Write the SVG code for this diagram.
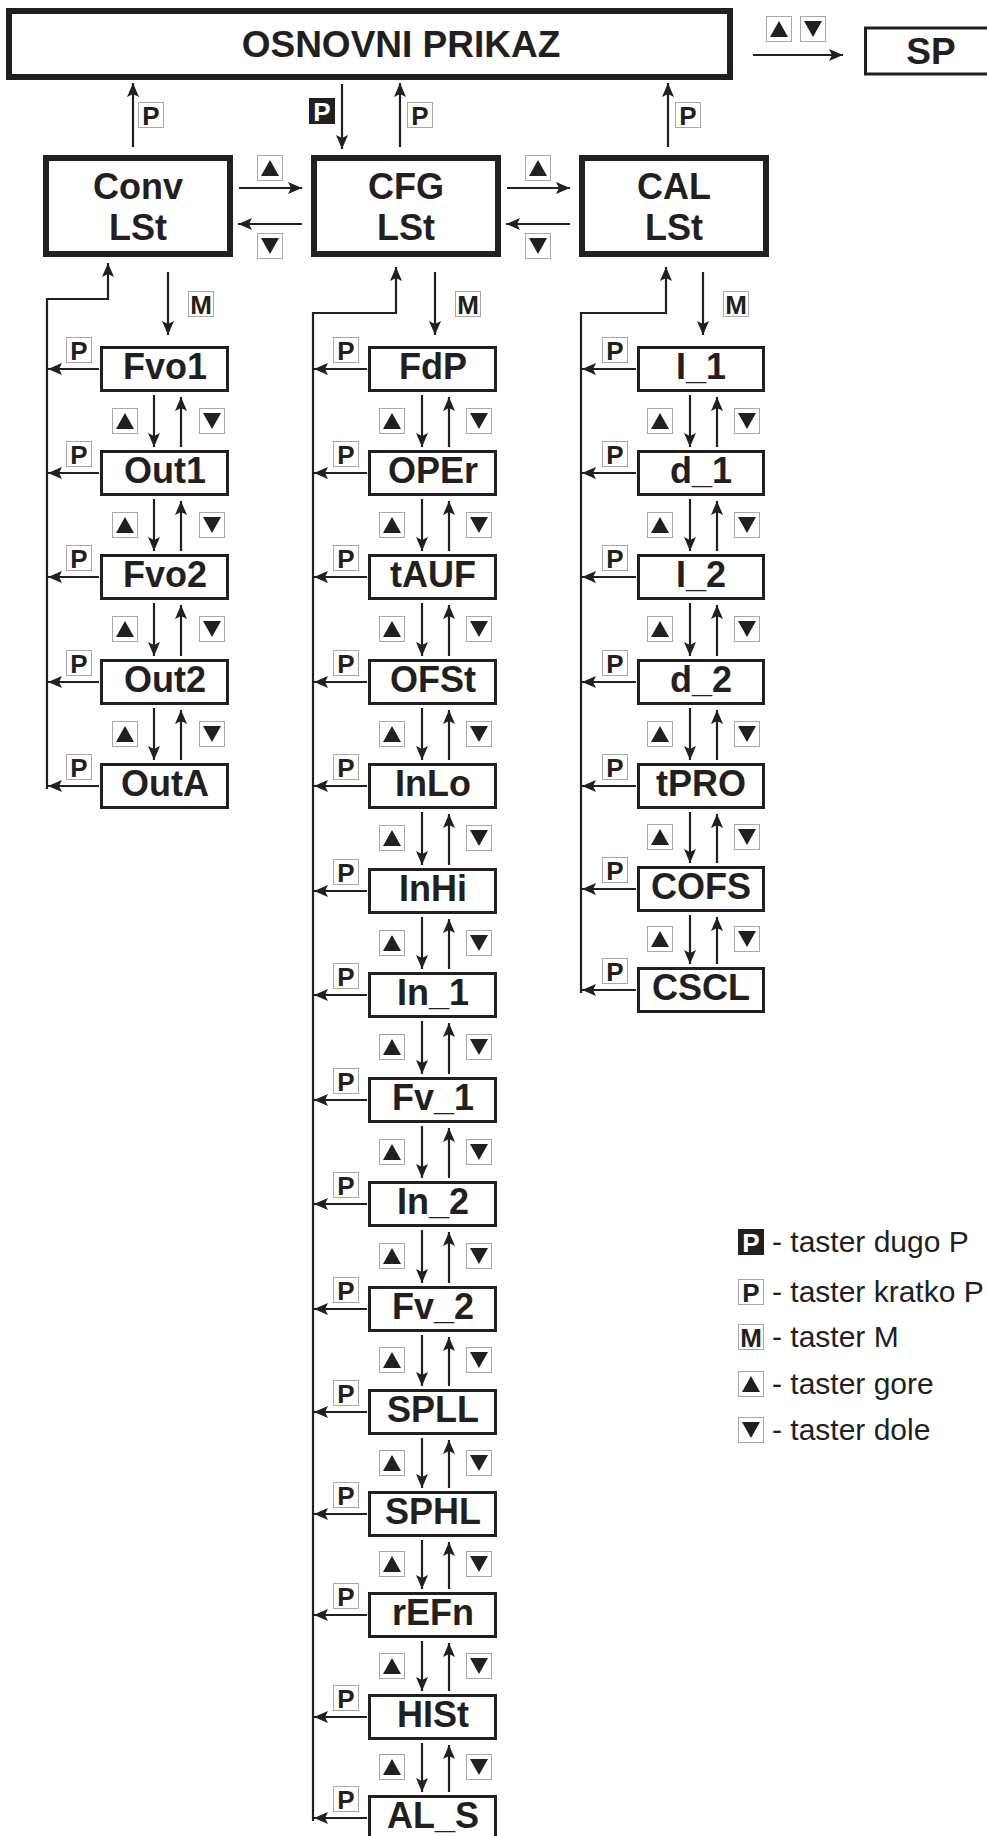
<svg xmlns="http://www.w3.org/2000/svg" width="987" height="1836" viewBox="0 0 987 1836">
<style>
.bb{fill:#fff;stroke:#231f20;stroke-width:6}
.sb{fill:#fff;stroke:#231f20;stroke-width:3}
.t{font-family:"Liberation Sans",Arial,sans-serif;font-weight:bold;font-size:36px;fill:#231f20;text-anchor:middle}
.c{stroke:#231f20;stroke-width:2.2;fill:none;marker-end:url(#ah)}
.key{fill:#fff;stroke:#a8a8a8;stroke-width:1}
.tri{fill:#231f20}
.kt{font-family:"Liberation Sans",Arial,sans-serif;font-weight:bold;font-size:26px;fill:#231f20;text-anchor:middle}
.lg{font-family:"Liberation Sans",Arial,sans-serif;font-size:30px;fill:#231f20}
</style>
<defs>
<marker id="ah" viewBox="0 0 14 12" refX="14" refY="6" markerWidth="14" markerHeight="12" orient="auto" markerUnits="userSpaceOnUse"><path d="M0,0 L14,6 L0,12 L3,6 Z" fill="#231f20"/></marker>
<g id="kUp"><rect class="key" x="0.5" y="0.5" width="25" height="25"/><path class="tri" d="M4,21 L22,21 L13,5 Z"/></g>
<g id="kDn"><rect class="key" x="0.5" y="0.5" width="25" height="25"/><path class="tri" d="M4,5 L22,5 L13,21 Z"/></g>
<g id="kP"><rect class="key" x="0.5" y="0.5" width="25" height="25"/><text class="kt" x="13" y="23">P</text></g>
<g id="kM"><rect class="key" x="0.5" y="0.5" width="25" height="25"/><text class="kt" x="13" y="23">M</text></g>
<g id="kPL"><rect x="0" y="0" width="26" height="26" fill="#231f20"/><text class="kt" x="13" y="23" style="fill:#fff">P</text></g>
</defs>

<g id="osnovni"><rect class="bb" x="9" y="11" width="721" height="66"/><text class="t" x="401" y="57" style="font-size:37px">OSNOVNI PRIKAZ</text></g>
<g id="sp"><rect class="sb" x="865.5" y="28" width="130" height="46"/><text class="t" x="931" y="64" style="font-size:37px">SP</text></g>

<g id="conv"><rect class="bb" x="46" y="158" width="184" height="96"/><text class="t" x="138" y="199">Conv</text><text class="t" x="138" y="240">LSt</text></g>
<g id="cfg"><rect class="bb" x="314" y="158" width="184" height="96"/><text class="t" x="406" y="199">CFG</text><text class="t" x="406" y="240">LSt</text></g>
<g id="cal"><rect class="bb" x="582" y="158" width="184" height="96"/><text class="t" x="674" y="199">CAL</text><text class="t" x="674" y="240">LSt</text></g>

<g id="Fvo1"><rect class="sb" x="101.5" y="347.5" width="126" height="43"/><text class="t" x="165" y="379">Fvo1</text></g>
<g id="Out1"><rect class="sb" x="101.5" y="451.5" width="126" height="43"/><text class="t" x="165" y="483">Out1</text></g>
<g id="Fvo2"><rect class="sb" x="101.5" y="555.5" width="126" height="43"/><text class="t" x="165" y="587">Fvo2</text></g>
<g id="Out2"><rect class="sb" x="101.5" y="660.5" width="126" height="43"/><text class="t" x="165" y="692">Out2</text></g>
<g id="OutA"><rect class="sb" x="101.5" y="764.5" width="126" height="43"/><text class="t" x="165" y="796">OutA</text></g>

<g id="FdP"><rect class="sb" x="369.5" y="347.5" width="126" height="43"/><text class="t" x="433" y="379">FdP</text></g>
<g id="OPEr"><rect class="sb" x="369.5" y="451.5" width="126" height="43"/><text class="t" x="433" y="483">OPEr</text></g>
<g id="tAUF"><rect class="sb" x="369.5" y="555.5" width="126" height="43"/><text class="t" x="433" y="587">tAUF</text></g>
<g id="OFSt"><rect class="sb" x="369.5" y="660.5" width="126" height="43"/><text class="t" x="433" y="692">OFSt</text></g>
<g id="InLo"><rect class="sb" x="369.5" y="764.5" width="126" height="43"/><text class="t" x="433" y="796">InLo</text></g>
<g id="InHi"><rect class="sb" x="369.5" y="869.5" width="126" height="43"/><text class="t" x="433" y="901">InHi</text></g>
<g id="In_1"><rect class="sb" x="369.5" y="973.5" width="126" height="43"/><text class="t" x="433" y="1005">In_1</text></g>
<g id="Fv_1"><rect class="sb" x="369.5" y="1078.5" width="126" height="43"/><text class="t" x="433" y="1110">Fv_1</text></g>
<g id="In_2"><rect class="sb" x="369.5" y="1182.5" width="126" height="43"/><text class="t" x="433" y="1214">In_2</text></g>
<g id="Fv_2"><rect class="sb" x="369.5" y="1287.5" width="126" height="43"/><text class="t" x="433" y="1319">Fv_2</text></g>
<g id="SPLL"><rect class="sb" x="369.5" y="1390.5" width="126" height="43"/><text class="t" x="433" y="1422">SPLL</text></g>
<g id="SPHL"><rect class="sb" x="369.5" y="1492.5" width="126" height="43"/><text class="t" x="433" y="1524">SPHL</text></g>
<g id="rEFn"><rect class="sb" x="369.5" y="1593.5" width="126" height="43"/><text class="t" x="433" y="1625">rEFn</text></g>
<g id="HISt"><rect class="sb" x="369.5" y="1695.5" width="126" height="43"/><text class="t" x="433" y="1727">HISt</text></g>
<g id="AL_S"><rect class="sb" x="369.5" y="1796.5" width="126" height="43"/><text class="t" x="433" y="1828">AL_S</text></g>

<g id="I_1"><rect class="sb" x="638.5" y="347.5" width="125" height="43"/><text class="t" x="701" y="379">I_1</text></g>
<g id="d_1"><rect class="sb" x="638.5" y="451.5" width="125" height="43"/><text class="t" x="701" y="483">d_1</text></g>
<g id="I_2"><rect class="sb" x="638.5" y="555.5" width="125" height="43"/><text class="t" x="701" y="587">I_2</text></g>
<g id="d_2"><rect class="sb" x="638.5" y="660.5" width="125" height="43"/><text class="t" x="701" y="692">d_2</text></g>
<g id="tPRO"><rect class="sb" x="638.5" y="764.5" width="125" height="43"/><text class="t" x="701" y="796">tPRO</text></g>
<g id="COFS"><rect class="sb" x="638.5" y="867.5" width="125" height="43"/><text class="t" x="701" y="899">COFS</text></g>
<g id="CSCL"><rect class="sb" x="638.5" y="968.5" width="125" height="43"/><text class="t" x="701" y="1000">CSCL</text></g>

<g id="connectors">
<line class="c" x1="133" y1="147" x2="133" y2="83"/>
<line class="c" x1="342" y1="84" x2="342" y2="149"/>
<line class="c" x1="400" y1="147" x2="400" y2="83"/>
<line class="c" x1="668" y1="147" x2="668" y2="83"/>
<line class="c" x1="753" y1="55" x2="843" y2="55"/>
<line class="c" x1="239" y1="188" x2="302" y2="188"/>
<line class="c" x1="302" y1="224" x2="238" y2="224"/>
<line class="c" x1="507" y1="188" x2="570" y2="188"/>
<line class="c" x1="570" y1="224" x2="506" y2="224"/>
<line class="c" x1="168" y1="272" x2="168" y2="335"/>
<line class="c" x1="435" y1="272" x2="435" y2="335"/>
<line class="c" x1="703" y1="272" x2="703" y2="335"/>
<polyline class="c" points="47,789 47,299 108,299 108,263"/>
<polyline class="c" points="313,1821 313,313 396,313 396,267"/>
<polyline class="c" points="581,993 581,313 666,313 666,267"/>

<line class="c" x1="99" y1="369" x2="48" y2="369"/>
<line class="c" x1="99" y1="473" x2="48" y2="473"/>
<line class="c" x1="99" y1="577" x2="48" y2="577"/>
<line class="c" x1="99" y1="682" x2="48" y2="682"/>
<line class="c" x1="99" y1="786" x2="48" y2="786"/>
<line class="c" x1="154" y1="395" x2="154" y2="447"/><line class="c" x1="181" y1="447" x2="181" y2="397"/>
<line class="c" x1="154" y1="499" x2="154" y2="551"/><line class="c" x1="181" y1="551" x2="181" y2="501"/>
<line class="c" x1="154" y1="603" x2="154" y2="656"/><line class="c" x1="181" y1="656" x2="181" y2="605"/>
<line class="c" x1="154" y1="708" x2="154" y2="760"/><line class="c" x1="181" y1="760" x2="181" y2="710"/>

<line class="c" x1="367" y1="369" x2="314" y2="369"/>
<line class="c" x1="367" y1="473" x2="314" y2="473"/>
<line class="c" x1="367" y1="577" x2="314" y2="577"/>
<line class="c" x1="367" y1="682" x2="314" y2="682"/>
<line class="c" x1="367" y1="786" x2="314" y2="786"/>
<line class="c" x1="367" y1="891" x2="314" y2="891"/>
<line class="c" x1="367" y1="995" x2="314" y2="995"/>
<line class="c" x1="367" y1="1100" x2="314" y2="1100"/>
<line class="c" x1="367" y1="1204" x2="314" y2="1204"/>
<line class="c" x1="367" y1="1309" x2="314" y2="1309"/>
<line class="c" x1="367" y1="1412" x2="314" y2="1412"/>
<line class="c" x1="367" y1="1514" x2="314" y2="1514"/>
<line class="c" x1="367" y1="1615" x2="314" y2="1615"/>
<line class="c" x1="367" y1="1717" x2="314" y2="1717"/>
<line class="c" x1="367" y1="1818" x2="314" y2="1818"/>
<line class="c" x1="422" y1="395" x2="422" y2="447"/><line class="c" x1="449" y1="447" x2="449" y2="397"/>
<line class="c" x1="422" y1="499" x2="422" y2="551"/><line class="c" x1="449" y1="551" x2="449" y2="501"/>
<line class="c" x1="422" y1="603" x2="422" y2="656"/><line class="c" x1="449" y1="656" x2="449" y2="605"/>
<line class="c" x1="422" y1="708" x2="422" y2="760"/><line class="c" x1="449" y1="760" x2="449" y2="710"/>
<line class="c" x1="422" y1="812" x2="422" y2="865"/><line class="c" x1="449" y1="865" x2="449" y2="814"/>
<line class="c" x1="422" y1="917" x2="422" y2="969"/><line class="c" x1="449" y1="969" x2="449" y2="919"/>
<line class="c" x1="422" y1="1021" x2="422" y2="1074"/><line class="c" x1="449" y1="1074" x2="449" y2="1023"/>
<line class="c" x1="422" y1="1126" x2="422" y2="1178"/><line class="c" x1="449" y1="1178" x2="449" y2="1128"/>
<line class="c" x1="422" y1="1230" x2="422" y2="1283"/><line class="c" x1="449" y1="1283" x2="449" y2="1232"/>
<line class="c" x1="422" y1="1335" x2="422" y2="1386"/><line class="c" x1="449" y1="1386" x2="449" y2="1337"/>
<line class="c" x1="422" y1="1438" x2="422" y2="1488"/><line class="c" x1="449" y1="1488" x2="449" y2="1440"/>
<line class="c" x1="422" y1="1540" x2="422" y2="1589"/><line class="c" x1="449" y1="1589" x2="449" y2="1542"/>
<line class="c" x1="422" y1="1641" x2="422" y2="1691"/><line class="c" x1="449" y1="1691" x2="449" y2="1643"/>
<line class="c" x1="422" y1="1743" x2="422" y2="1792"/><line class="c" x1="449" y1="1792" x2="449" y2="1745"/>

<line class="c" x1="636" y1="369" x2="582" y2="369"/>
<line class="c" x1="636" y1="473" x2="582" y2="473"/>
<line class="c" x1="636" y1="577" x2="582" y2="577"/>
<line class="c" x1="636" y1="682" x2="582" y2="682"/>
<line class="c" x1="636" y1="786" x2="582" y2="786"/>
<line class="c" x1="636" y1="889" x2="582" y2="889"/>
<line class="c" x1="636" y1="990" x2="582" y2="990"/>
<line class="c" x1="690" y1="395" x2="690" y2="447"/><line class="c" x1="717" y1="447" x2="717" y2="397"/>
<line class="c" x1="690" y1="499" x2="690" y2="551"/><line class="c" x1="717" y1="551" x2="717" y2="501"/>
<line class="c" x1="690" y1="603" x2="690" y2="656"/><line class="c" x1="717" y1="656" x2="717" y2="605"/>
<line class="c" x1="690" y1="708" x2="690" y2="760"/><line class="c" x1="717" y1="760" x2="717" y2="710"/>
<line class="c" x1="690" y1="812" x2="690" y2="863"/><line class="c" x1="717" y1="863" x2="717" y2="814"/>
<line class="c" x1="690" y1="915" x2="690" y2="964"/><line class="c" x1="717" y1="964" x2="717" y2="917"/>
</g>

<g id="keys">
<use href="#kP" x="138" y="102"/>
<use href="#kPL" x="309" y="98"/>
<use href="#kP" x="407" y="102"/>
<use href="#kP" x="675" y="102"/>
<use href="#kUp" x="766" y="16"/>
<use href="#kDn" x="800" y="16"/>
<use href="#kUp" x="257" y="155"/>
<use href="#kDn" x="257" y="233"/>
<use href="#kUp" x="525" y="155"/>
<use href="#kDn" x="525" y="233"/>
<use href="#kM" x="188" y="291"/>
<use href="#kM" x="455" y="291"/>
<use href="#kM" x="723" y="291"/>

<use href="#kP" x="66" y="337"/><use href="#kP" x="66" y="441"/><use href="#kP" x="66" y="545"/><use href="#kP" x="66" y="650"/><use href="#kP" x="66" y="754"/>
<use href="#kUp" x="112" y="408"/><use href="#kDn" x="199" y="408"/>
<use href="#kUp" x="112" y="512"/><use href="#kDn" x="199" y="512"/>
<use href="#kUp" x="112" y="616"/><use href="#kDn" x="199" y="616"/>
<use href="#kUp" x="112" y="721"/><use href="#kDn" x="199" y="721"/>

<use href="#kP" x="333" y="337"/><use href="#kP" x="333" y="441"/><use href="#kP" x="333" y="545"/><use href="#kP" x="333" y="650"/><use href="#kP" x="333" y="754"/>
<use href="#kP" x="333" y="859"/><use href="#kP" x="333" y="963"/><use href="#kP" x="333" y="1068"/><use href="#kP" x="333" y="1172"/><use href="#kP" x="333" y="1277"/>
<use href="#kP" x="333" y="1380"/><use href="#kP" x="333" y="1482"/><use href="#kP" x="333" y="1583"/><use href="#kP" x="333" y="1685"/><use href="#kP" x="333" y="1786"/>
<use href="#kUp" x="379" y="408"/><use href="#kDn" x="466" y="408"/>
<use href="#kUp" x="379" y="512"/><use href="#kDn" x="466" y="512"/>
<use href="#kUp" x="379" y="616"/><use href="#kDn" x="466" y="616"/>
<use href="#kUp" x="379" y="721"/><use href="#kDn" x="466" y="721"/>
<use href="#kUp" x="379" y="825"/><use href="#kDn" x="466" y="825"/>
<use href="#kUp" x="379" y="930"/><use href="#kDn" x="466" y="930"/>
<use href="#kUp" x="379" y="1034"/><use href="#kDn" x="466" y="1034"/>
<use href="#kUp" x="379" y="1139"/><use href="#kDn" x="466" y="1139"/>
<use href="#kUp" x="379" y="1243"/><use href="#kDn" x="466" y="1243"/>
<use href="#kUp" x="379" y="1347"/><use href="#kDn" x="466" y="1347"/>
<use href="#kUp" x="379" y="1450"/><use href="#kDn" x="466" y="1450"/>
<use href="#kUp" x="379" y="1551"/><use href="#kDn" x="466" y="1551"/>
<use href="#kUp" x="379" y="1653"/><use href="#kDn" x="466" y="1653"/>
<use href="#kUp" x="379" y="1754"/><use href="#kDn" x="466" y="1754"/>

<use href="#kP" x="602" y="337"/><use href="#kP" x="602" y="441"/><use href="#kP" x="602" y="545"/><use href="#kP" x="602" y="650"/><use href="#kP" x="602" y="754"/><use href="#kP" x="602" y="857"/><use href="#kP" x="602" y="958"/>
<use href="#kUp" x="647" y="408"/><use href="#kDn" x="734" y="408"/>
<use href="#kUp" x="647" y="512"/><use href="#kDn" x="734" y="512"/>
<use href="#kUp" x="647" y="616"/><use href="#kDn" x="734" y="616"/>
<use href="#kUp" x="647" y="721"/><use href="#kDn" x="734" y="721"/>
<use href="#kUp" x="647" y="824"/><use href="#kDn" x="734" y="824"/>
<use href="#kUp" x="647" y="926"/><use href="#kDn" x="734" y="926"/>
</g>

<g id="legend">
<use href="#kPL" x="738" y="1229"/><text class="lg" x="772" y="1252">- taster dugo P</text>
<use href="#kP" x="738" y="1279"/><text class="lg" x="772" y="1302">- taster kratko P</text>
<use href="#kM" x="738" y="1324"/><text class="lg" x="772" y="1347">- taster M</text>
<use href="#kUp" x="738" y="1371"/><text class="lg" x="772" y="1394">- taster gore</text>
<use href="#kDn" x="738" y="1417"/><text class="lg" x="772" y="1440">- taster dole</text>
</g>
</svg>
